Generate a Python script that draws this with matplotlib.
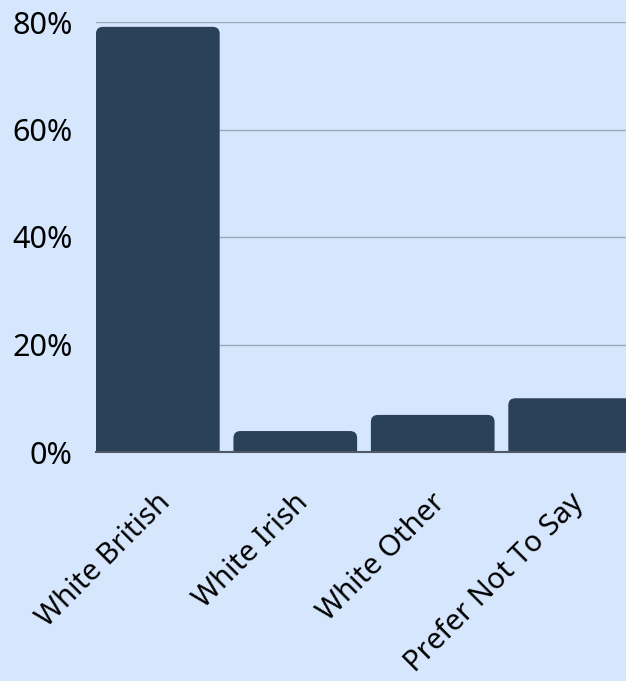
import matplotlib
matplotlib.use("Agg")
import matplotlib.pyplot as plt
from matplotlib.patches import FancyBboxPatch
from matplotlib.ticker import FuncFormatter
from matplotlib.transforms import ScaledTranslation

categories = ["White British", "White Irish", "White Other", "Prefer Not To Say"]
values = [79.1, 3.9, 6.9, 10.0]
yticks = [0, 20, 40, 60, 80]

bg = "#d6e7fd"
bar_color = "#2b4059"

plt.rcParams["font.family"] = ["Noto Sans", "DejaVu Sans"]

fig = plt.figure(figsize=(6.26, 6.81), dpi=100, facecolor=bg)
# axes spans px 96..632 horizontally, 22..452 vertically
ax = fig.add_axes([96 / 626, (681 - 452) / 681, 536 / 626, 430 / 681], facecolor=bg)

x = list(range(len(categories)))
bars = ax.bar(x, values, width=0.9, color="none")

ax.set_xlim(-0.45, 3.45)
ax.set_ylim(0, 80)

# rounded tops: replace each bar with a rounded box that extends below the axis
px_x = 536 / 3.9
px_y = 430 / 80
aspect = px_x / px_y
r = 7 / px_x
for b in bars:
    bx, bw, bh = b.get_x(), b.get_width(), b.get_height()
    patch = FancyBboxPatch((bx, -5), bw, bh + 5,
                           boxstyle=f"round,pad=0,rounding_size={r}",
                           mutation_aspect=aspect, facecolor=bar_color,
                           edgecolor="none", clip_on=True, zorder=2)
    ax.add_patch(patch)
    b.remove()

ax.set_yticks(yticks)
ax.yaxis.set_major_formatter(FuncFormatter(lambda v, p: f"{int(v)}%"))
ax.grid(axis="y", color="#9aa8bc", linewidth=1, zorder=0)
ax.set_axisbelow(True)

for s in ["top", "right", "left"]:
    ax.spines[s].set_visible(False)
ax.spines["bottom"].set_color("#4f5866")
ax.spines["bottom"].set_linewidth(1.5)
ax.spines["bottom"].set_zorder(3)

ax.tick_params(axis="y", length=0, pad=17, labelsize=22, labelcolor="#000000")
ax.tick_params(axis="x", length=0, pad=37, labelsize=21, labelcolor="#000000")
ax.set_xticks(x)
ax.set_xticklabels(categories, rotation=45, ha="right", va="baseline",
                   rotation_mode="anchor")
shift = ScaledTranslation(14 / 100, 0, fig.dpi_scale_trans)
for lab in ax.get_xticklabels():
    lab.set_transform(lab.get_transform() + shift)

fig.savefig("out.png", dpi=100, facecolor=bg)
